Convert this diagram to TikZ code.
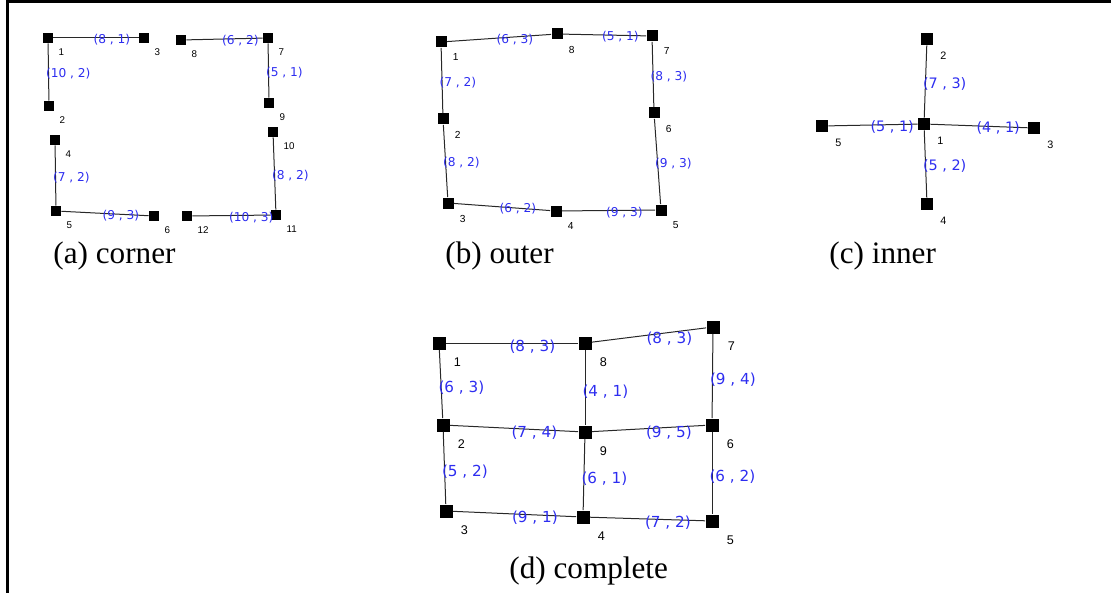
\documentclass[tikz,border=0pt]{standalone}
\usepackage{fontspec}
\setmainfont{Liberation Serif}
\newfontfamily\numfont{Liberation Sans}
\newfontfamily\lblfont{DejaVu Sans}
\usetikzlibrary{positioning}
\definecolor{LabelBlue}{RGB}{45,45,240}
\definecolor{EdgeGray}{RGB}{40,40,40}

\tikzset{
	sq/.style={fill=black, inner sep=0, minimum size=5pt},
	edge/.style={draw=EdgeGray, line width=0.5pt},
	wt/.style={pos=0.5, anchor=west, xshift=-1.5pt, yshift=-1pt, text=LabelBlue, inner sep=0, font=\lblfont\fontsize{6.1}{7}\selectfont},
	subcap/.style={anchor=base west, inner sep=0, font=\fontsize{15.6}{17}\selectfont},
	every label/.style={inner sep=0, font=\numfont\fontsize{4.9}{6}\selectfont}
}

\begin{document}
\begin{tikzpicture}[x=0.5pt, y=-0.5pt]
	\useasboundingbox (0,0) rectangle (1111,593);
	\draw[line width=1.2pt] (1111,1.5) -- (7.5,1.5) -- (7.5,593);
	
	% (a) corner
	\begin{scope}[label distance=3.4pt]
		\node[sq, label=below right:1] (a1) at (48,38) {};
		\node[sq, label=below right:3] (a3) at (144,38) {};
		\node[sq, label=below right:2] (a2) at (49,106) {};
		\node[sq, label=below right:8] (a8) at (181,40) {};
		\node[sq, label=below right:7] (a7) at (268,38) {};
		\node[sq, label=below right:9] (a9) at (269,103) {};
		\node[sq, label=below right:4] (a4) at (55,140) {};
		\node[sq, label=below right:5] (a5) at (56,211) {};
		\node[sq, label=below right:6] (a6) at (154,216) {};
		\node[sq, label=below right:10] (a10) at (273,132) {};
		\node[sq, label=below right:11] (a11) at (276,215) {};
		\node[sq, label=below right:12] (a12) at (187,216) {};
		
		\draw[edge] (a1) -- node[wt] {(8 , 1)} (a3);
		\draw[edge] (a1) -- node[wt] {(10 , 2)} (a2);
		\draw[edge] (a8) -- node[wt] {(6 , 2)} (a7);
		\draw[edge] (a7) -- node[wt] {(5 , 1)} (a9);
		\draw[edge] (a4) -- node[wt] {(7 , 2)} (a5);
		\draw[edge] (a5) -- node[wt] {(9 , 3)} (a6);
		\draw[edge] (a10) -- node[wt] {(8 , 2)} (a11);
		\draw[edge] (a12) -- node[wt] {(10 , 3)} (a11);
		
		\node[subcap] (capa) at (53,263) {(a) corner};
	\end{scope}
	
	% (b) outer
	\begin{scope}[label distance=4pt, sq/.append style={minimum size=5.5pt},
		every label/.append style={font=\numfont\fontsize{5.1}{6}\selectfont}]
		\node[sq, label=below right:1] (b1) at (441,42) {};
		\node[sq, label=below right:8] (b8) at (557,34) {};
		\node[sq, label=below right:7] (b7) at (652,36) {};
		\node[sq, label=below right:2] (b2) at (443,119) {};
		\node[sq, label=below right:6] (b6) at (654,113) {};
		\node[sq, label=below right:3] (b3) at (448,203) {};
		\node[sq, label=below right:4] (b4) at (556,211) {};
		\node[sq, label=below right:5] (b5) at (661,210) {};
		
		\draw[edge] (b1) -- node[wt] {(6 , 3)} (b8);
		\draw[edge] (b8) -- node[wt] {(5 , 1)} (b7);
		\draw[edge] (b1) -- node[wt] {(7 , 2)} (b2);
		\draw[edge] (b2) -- node[wt] {(8 , 2)} (b3);
		\draw[edge] (b7) -- node[wt] {(8 , 3)} (b6);
		\draw[edge] (b6) -- node[wt] {(9 , 3)} (b5);
		\draw[edge] (b3) -- node[wt] {(6 , 2)} (b4);
		\draw[edge] (b4) -- node[wt] {(9 , 3)} (b5);
		
		\node[subcap] (capb) at (445,263) {(b) outer};
	\end{scope}
	
	% (c) inner
	\begin{scope}[label distance=4.6pt, sq/.append style={minimum size=6pt},
		every label/.append style={font=\numfont\fontsize{5.4}{6}\selectfont},
		wt/.append style={font=\lblfont\fontsize{7.2}{8}\selectfont}]
		\node[sq, label=below right:1] (c1) at (924,124) {};
		\node[sq, label=below right:2] (c2) at (927,39) {};
		\node[sq, label=below right:5] (c5) at (822,126) {};
		\node[sq, label=below right:3] (c3) at (1034,128) {};
		\node[sq, label=below right:4] (c4) at (927,204) {};
		
		\draw[edge] (c1) -- node[wt] {(7 , 3)} (c2);
		\draw[edge] (c5) -- node[wt] {(5 , 1)} (c1);
		\draw[edge] (c1) -- node[wt] {(4 , 1)} (c3);
		\draw[edge] (c1) -- node[wt] {(5 , 2)} (c4);
		
		\node[subcap] (capc) at (829,263) {(c) inner};
	\end{scope}
	
	% (d) complete
	\begin{scope}[label distance=5.3pt, sq/.append style={minimum size=6.5pt},
		every label/.append style={font=\numfont\fontsize{6.3}{7}\selectfont},
		wt/.append style={font=\lblfont\fontsize{7.6}{8}\selectfont, yshift=-1pt}]
		\node[sq, label=below right:1] (d1) at (439,343) {};
		\node[sq, label=below right:8] (d8) at (585,343) {};
		\node[sq, label=below right:7] (d7) at (713,327) {};
		\node[sq, label=below right:2] (d2) at (443,425) {};
		\node[sq, label=below right:9] (d9) at (585,432) {};
		\node[sq, label=below right:6] (d6) at (712,425) {};
		\node[sq, label=below right:3] (d3) at (446,511) {};
		\node[sq, label=below right:4] (d4) at (583,517) {};
		\node[sq, label=below right:5] (d5) at (712,521) {};
		
		\draw[edge] (d1) -- node[wt] {(8 , 3)} (d8);
		\draw[edge] (d8) -- node[wt] {(8 , 3)} (d7);
		\draw[edge] (d1) -- node[wt] {(6 , 3)} (d2);
		\draw[edge] (d8) -- node[wt] {(4 , 1)} (d9);
		\draw[edge] (d7) -- node[wt] {(9 , 4)} (d6);
		\draw[edge] (d2) -- node[wt] {(7 , 4)} (d9);
		\draw[edge] (d9) -- node[wt] {(9 , 5)} (d6);
		\draw[edge] (d2) -- node[wt] {(5 , 2)} (d3);
		\draw[edge] (d9) -- node[wt] {(6 , 1)} (d4);
		\draw[edge] (d6) -- node[wt] {(6 , 2)} (d5);
		\draw[edge] (d3) -- node[wt] {(9 , 1)} (d4);
		\draw[edge] (d4) -- node[wt] {(7 , 2)} (d5);
		
		\node[subcap] (capd) at (509,578) {(d) complete};
	\end{scope}
\end{tikzpicture}
\end{document}
